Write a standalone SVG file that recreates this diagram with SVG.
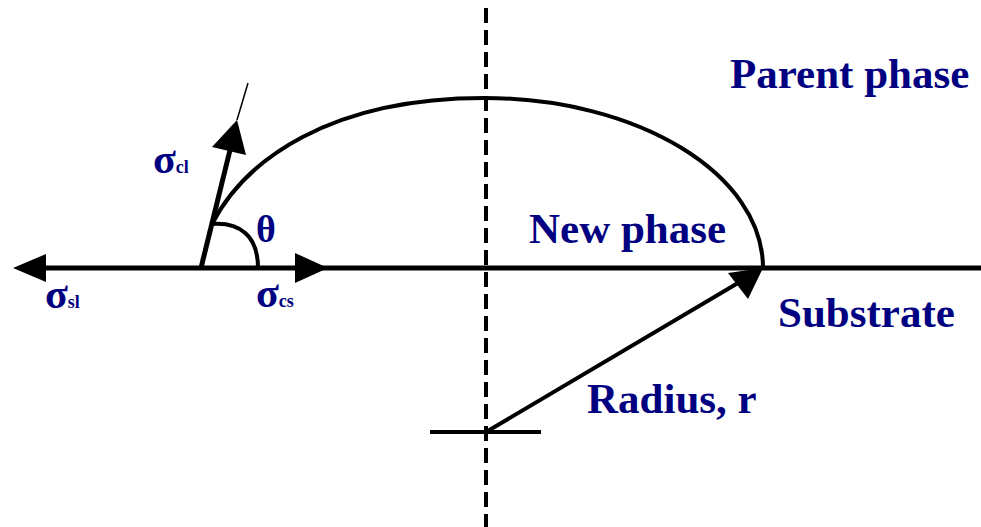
<svg xmlns="http://www.w3.org/2000/svg" width="981" height="527" viewBox="0 0 981 527">
<style>
.ln{stroke:#000;fill:none;stroke-linecap:butt}
.hd{fill:#000;stroke:none}
.lbl{font-family:"Liberation Serif","Times New Roman",serif;font-weight:bold;fill:#000080}
.big{font-size:43px}
.sig{font-size:42px}
.sub{font-size:18px}
</style>
<rect width="981" height="527" fill="#fff"/>
<g id="connectors">
  <line class="ln" x1="486" y1="8" x2="486" y2="527" stroke-width="4" stroke-dasharray="15 7"/>
  <line class="ln" x1="30" y1="268" x2="981" y2="268" stroke-width="5"/>
  <polygon class="hd" points="13,268 46,254 46,282"/>
  <polygon class="hd" points="328,268 295,253 295,283"/>
  <path class="ln" d="M212,224 C245,160 330,98 484,98 C638,98 763,174 763,268" stroke-width="4"/>
  <line class="ln" x1="201" y1="268" x2="231" y2="146" stroke-width="5"/>
  <polygon class="hd" points="237,120 246,155 212,147"/>
  <line class="ln" x1="237" y1="120" x2="248" y2="83" stroke-width="1.5"/>
  <path class="ln" d="M212,224 C240,222 258,236 258,268" stroke-width="4"/>
  <line class="ln" x1="430" y1="432" x2="541" y2="432" stroke-width="4"/>
  <line class="ln" x1="486" y1="432" x2="738" y2="283" stroke-width="4"/>
  <polygon class="hd" points="763,268 748,299 728,273"/>
</g>
<g id="parent-phase"><text class="lbl big" x="730" y="88">Parent phase</text></g>
<g id="new-phase"><text class="lbl big" x="529" y="243">New phase</text></g>
<g id="substrate"><text class="lbl big" x="778" y="327">Substrate</text></g>
<g id="radius"><text class="lbl big" x="587" y="413">Radius, r</text></g>
<g id="theta"><text class="lbl" x="256" y="242" font-size="38">θ</text></g>
<g id="sigma-cl"><text class="lbl" x="153" y="173"><tspan class="sig">σ</tspan><tspan class="sub">cl</tspan></text></g>
<g id="sigma-cs"><text class="lbl" x="256" y="307"><tspan class="sig">σ</tspan><tspan class="sub">cs</tspan></text></g>
<g id="sigma-sl"><text class="lbl" x="45" y="308"><tspan class="sig">σ</tspan><tspan class="sub">sl</tspan></text></g>
</svg>
